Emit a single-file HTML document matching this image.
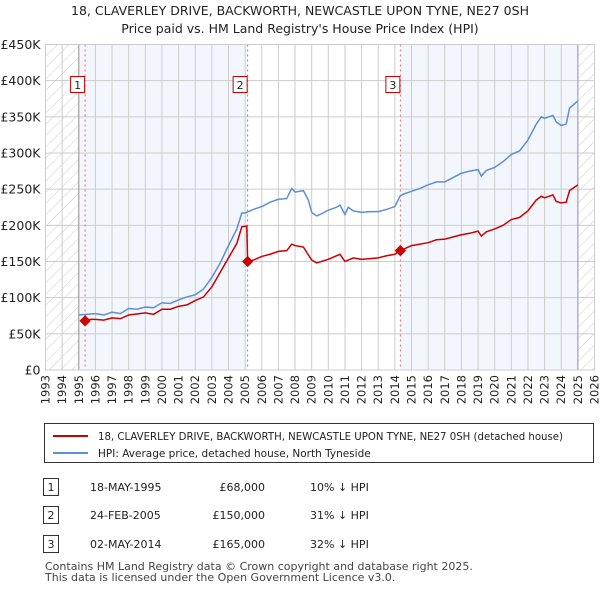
<!DOCTYPE html>
<html><head><meta charset="utf-8"><style>
body{margin:0;background:#fff;font-family:"Liberation Sans","DejaVu Sans",sans-serif;}
svg text{font-family:"DejaVu Sans","Liberation Sans",sans-serif;}
</style></head><body>
<svg id="c" width="600" height="590" xmlns="http://www.w3.org/2000/svg">
<defs><pattern id="h" width="8" height="8" patternUnits="userSpaceOnUse" patternTransform="rotate(45)"><line x1="0" y1="0" x2="0" y2="8" stroke="#ccc" stroke-width="1"/></pattern></defs>
<text x="300" y="15" text-anchor="middle" font-size="12.5" fill="#222">18, CLAVERLEY DRIVE, BACKWORTH, NEWCASTLE UPON TYNE, NE27 0SH</text>
<text x="300" y="33" text-anchor="middle" font-size="12.5" fill="#222">Price paid vs. HM Land Registry's House Price Index (HPI)</text>
<g id="plot"></g>
<g>
<rect x="44.5" y="423.5" width="549" height="39" fill="#fff" stroke="#333"/>
<line x1="53" y1="436" x2="88" y2="436" stroke="#cc0000" stroke-width="2"/>
<text x="98" y="440" font-size="10.5" fill="#222" textLength="465" lengthAdjust="spacingAndGlyphs">18, CLAVERLEY DRIVE, BACKWORTH, NEWCASTLE UPON TYNE, NE27 0SH (detached house)</text>
<line x1="53" y1="453" x2="88" y2="453" stroke="#5b8fd4" stroke-width="2"/>
<text x="98" y="457" font-size="10.5" fill="#222">HPI: Average price, detached house, North Tyneside</text>
</g>
<g font-size="11" fill="#222">
<rect x="43.5" y="478.5" width="15" height="17" fill="#fff" stroke="#333"/><text x="51" y="491" text-anchor="middle">1</text>
<text x="90" y="491">18-MAY-1995</text><text x="265" y="491" text-anchor="end">£68,000</text><text x="310" y="491">10% ↓ HPI</text>
<rect x="43.5" y="506.5" width="15" height="17" fill="#fff" stroke="#333"/><text x="51" y="519" text-anchor="middle">2</text>
<text x="90" y="519">24-FEB-2005</text><text x="265" y="519" text-anchor="end">£150,000</text><text x="310" y="519">31% ↓ HPI</text>
<rect x="43.5" y="535.5" width="15" height="17" fill="#fff" stroke="#333"/><text x="51" y="548" text-anchor="middle">3</text>
<text x="90" y="548">02-MAY-2014</text><text x="265" y="548" text-anchor="end">£165,000</text><text x="310" y="548">32% ↓ HPI</text>
</g>
<text x="45" y="570" font-size="11" fill="#444">Contains HM Land Registry data © Crown copyright and database right 2025.</text>
<text x="45" y="581" font-size="11" fill="#444">This data is licensed under the Open Government Licence v3.0.</text>
</svg>
<script>
const hpiYears=[1995,1995.5,1996,1996.5,1997,1997.5,1998,1998.5,1999,1999.5,2000,2000.5,2001,2001.5,2002,2002.5,2003,2003.5,2004,2004.5,2004.8,2005,2005.5,2006,2006.5,2007,2007.5,2007.8,2008,2008.5,2008.8,2009,2009.3,2009.6,2010,2010.5,2010.7,2011,2011.2,2011.5,2012,2012.5,2013,2013.5,2014,2014.3,2014.5,2015,2015.5,2016,2016.5,2017,2017.5,2018,2018.5,2019,2019.2,2019.5,2020,2020.5,2021,2021.5,2022,2022.5,2022.8,2023,2023.5,2023.7,2024,2024.3,2024.5,2025];
const hpiValues=[76,77,78,76,80,78,85,84,87,86,93,92,97,101,104,112,128,148,172,195,217,217,222,226,232,236,237,251,246,248,235,218,213,216,221,225,228,215,225,220,218,219,219,222,226,240,243,247,251,256,260,260,266,272,275,277,268,276,280,288,298,303,318,340,350,348,352,343,338,340,362,372];
const priceYears=[1995.38,1995.7,1996,1996.5,1997,1997.5,1998,1999,1999.5,2000,2000.5,2001,2001.5,2002,2002.5,2003,2003.5,2004,2004.5,2004.8,2005.1,2005.15,2005.5,2006,2006.5,2007,2007.5,2007.8,2008,2008.5,2009,2009.3,2010,2010.7,2011,2011.5,2012,2013,2013.5,2014,2014.33,2015,2016,2016.5,2017,2018,2018.5,2019,2019.2,2019.5,2020,2020.5,2021,2021.5,2022,2022.5,2022.8,2023,2023.5,2023.7,2024,2024.3,2024.5,2025];
const priceValues=[68,70,70,69,72,71,76,79,77,84,84,88,90,96,101,115,135,155,175,198,199,150,152,157,160,164,165,174,172,170,152,148,153,160,150,155,153,155,158,160,165,172,176,180,181,187,189,192,185,191,195,200,208,211,220,235,240,238,242,233,231,232,248,256];
const saleLabels=["1","2","3"];
const saleYears=[1995.38,2005.15,2014.33];
const saleValues=[68,150,165];
const yTicks=[0,50,100,150,200,250,300,350,400,450];
const yTickLabels=["£0","£50K","£100K","£150K","£200K","£250K","£300K","£350K","£400K","£450K"];
const xTicks=[1993,1994,1995,1996,1997,1998,1999,2000,2001,2002,2003,2004,2005,2006,2007,2008,2009,2010,2011,2012,2013,2014,2015,2016,2017,2018,2019,2020,2021,2022,2023,2024,2025,2026];

const L=45.5,R=594.5,T=44.5,B=370;
const X=y=>L+(y-1993)/(2026-1993)*(R-L);
const Y=v=>B-v/450*(B-T);
const ns="http://www.w3.org/2000/svg";
const g=document.getElementById('plot');
function mk(t,a,p){const e=document.createElementNS(ns,t);for(const k in a)e.setAttribute(k,a[k]);(p||g).appendChild(e);return e;}
let e;
e=mk('rect',{x:L,y:T,width:R-L,height:B-T,fill:'#fff'});


e=mk('rect',{x:X(1995),y:T,width:X(saleYears[1])-X(1995),height:B-T,fill:'#eef3fc',opacity:0.7});


e=mk('rect',{x:X(saleYears[2]),y:T,width:X(2025)-X(saleYears[2]),height:B-T,fill:'#eef3fc',opacity:0.7});


e=mk('rect',{x:L,y:T,width:X(1995)-L,height:B-T,fill:'url(#h)'});


e=mk('rect',{x:X(2025),y:T,width:R-X(2025),height:B-T,fill:'url(#h)'});


xTicks.forEach(t=>{
 e=mk('line',{x1:X(t),x2:X(t),y1:T,y2:B,stroke:'#ccc','stroke-width':1});
 
 
 e=mk('text',{x:0,y:0,transform:`translate(${X(t)+4},${B+5}) rotate(-90)`,'text-anchor':'end','font-size':11.5,fill:'#222'});
 e.textContent=t;
 
 
});
yTicks.forEach((t,i)=>{
 e=mk('line',{x1:L,x2:R,y1:Y(t),y2:Y(t),stroke:'#ccc','stroke-width':1});
 
 
 e=mk('text',{x:L-5,y:Y(t)+4.5,'text-anchor':'end','font-size':12.5,fill:'#222'});
 e.textContent=yTickLabels[i];
 
 
});
[1995,2025].forEach(t=>{mk('line',{x1:X(t),x2:X(t),y1:T,y2:B,stroke:'#999','stroke-width':1});});
saleYears.forEach((s,i)=>{
 e=mk('line',{x1:X(s),x2:X(s),y1:T,y2:B,stroke:'#ee6666','stroke-width':1,'stroke-dasharray':'2,3'});
 
 
 mk('rect',{x:X(s)-14.5,y:76.5,width:14,height:16,fill:'#fff',stroke:'#cc0000'});
 e=mk('text',{x:X(s)-7.5,y:89,'text-anchor':'middle','font-size':11,fill:'#222'});
 e.textContent=saleLabels[i];
 
 
});
e=mk('polyline',{points:hpiYears.map((y,i)=>X(y)+','+Y(hpiValues[i])).join(' '),fill:'none',stroke:'#5b8fd4','stroke-width':1.5});


e=mk('polyline',{points:priceYears.map((y,i)=>X(y)+','+Y(priceValues[i])).join(' '),fill:'none',stroke:'#cc0000','stroke-width':1.5});


saleYears.forEach((s,i)=>{
 e=mk('rect',{x:X(s)-4,y:Y(saleValues[i])-4,width:8,height:8,fill:'#cc0000',transform:`rotate(45 ${X(s)} ${Y(saleValues[i])})`});
 
 
});
e=mk('rect',{x:L,y:T,width:R-L,height:B-T,fill:'none',stroke:'#ccc'});
</script>
</body></html>
